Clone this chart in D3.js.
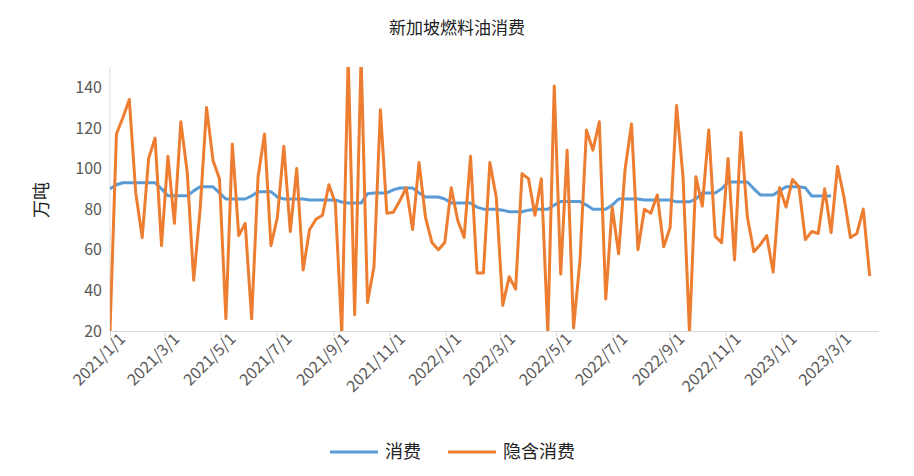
<!DOCTYPE html>
<html>
<head>
<meta charset="utf-8">
<script src="https://cdn.jsdelivr.net/npm/d3@7"></script>
<style>
body { margin: 0; background: #fff; }
text { font-family: "Noto Sans CJK SC", "Liberation Sans", sans-serif; }
</style>
</head>
<body>
<div id="panel"></div>
<script>
// weekly points from 2021/1/1
const startDate = new Date(2021, 0, 1);
const consumption = [90,92,93,93,93,93,93,93,90,86.6,86.6,86.6,86.6,89,91,91,91,88,85,85,85,85,86.5,88.6,88.6,88.6,86,85,85,85,85,
  84.5,84.5,84.5,84.5,84.5,83.5,83,83,83,87.6,88,88,88,89.5,90.4,90.4,90.4,88,86,86,86,85,83,83,83,83,81,80,80,80,79.5,78.7,78.7,78.7,
  79.5,80,80,80,82,83.8,83.8,83.8,83.8,82,80,80,80,82,85,85,85,85,84.5,84.5,84.5,84.5,84.5,83.6,83.6,83.6,85,88,88,88,90,93.4,93.4,93.4,93.4,
  90,87,87,87,89,91,91,91,90.5,86.5,86.5,86.5,86.5];
const implied = [20,117,125,134,88,66,105,115,62,106,73,123,98,45,80,130,104,95,26,112,67,73,26,96,117,62,76,111,69,100,50,70,75,77,92,83,19,155,28,155,34,
  51.6,129,78,78.5,84,90.6,70,103,76,63.6,60,63.6,90.5,74.5,66,106,48.6,48.6,103,85.7,32.6,46.7,40.6,97.5,95,77,95,19,140.6,48,109,21.5,55,119,109,123,35.7,81,58,99.5,122,
  60,80,78,87,61.5,71,131,96,19.5,96,81.5,119,66.6,63.5,105,55,117.7,76,59,62.5,67,49,90.6,81,94.6,91,65,69,68,90,68.5,101,86,66,68,80,47];
const yTicks = [20, 40, 60, 80, 100, 120, 140];
const seriesNames = ["消费", "隐含消费"];
const colors = ["#5b9bd5", "#ed7d31"];

const W = 914, H = 476;
const margin = {left: 110, right: 36, top: 67, bottom: 145};
const dayMs = 864e5;
const dateOf = i => new Date(startDate.getTime() + i * 7 * dayMs);

const svg = d3.select("#panel").append("svg").attr("width", W).attr("height", H);

const x = d3.scaleTime()
  .domain([startDate, new Date(startDate.getTime() + 835 * dayMs)])
  .range([margin.left, W - margin.right]);
const y = d3.scaleLinear().domain([20, 150]).range([H - margin.bottom, margin.top]);

svg.append("text").attr("x", 457).attr("y", 34).attr("text-anchor", "middle")
  .style("font-size", "17px").attr("fill", "#222").text("新加坡燃料油消费");

svg.append("text").attr("transform", "translate(48,200) rotate(-90)")
  .attr("text-anchor", "middle").style("font-size", "18px").attr("fill", "#222").text("万吨");

const xTicks = d3.timeMonth.every(2).range(startDate, x.domain()[1]);
const gx = svg.append("g").attr("transform", `translate(0,${H - margin.bottom})`)
  .call(d3.axisBottom(x).tickValues(xTicks).tickSize(5).tickSizeOuter(0)
    .tickFormat(d3.timeFormat("%Y/%-m/%-d")));
gx.select(".domain").attr("stroke", "#d9d9d9");
gx.selectAll(".tick line").attr("stroke", "#d9d9d9");
gx.selectAll(".tick text").attr("fill", "#595959").style("font-size", "16px")
  .attr("text-anchor", "end").attr("dx", "0.3em").attr("dy", "0.6em")
  .attr("transform", "rotate(-45)");

const gy = svg.append("g").attr("transform", `translate(${margin.left},0)`)
  .call(d3.axisLeft(y).tickValues(yTicks).tickSize(0).tickPadding(8));
gy.select(".domain").attr("stroke", "#d9d9d9").attr("d", `M0,${margin.top}V${H - margin.bottom}`);
gy.selectAll(".tick text").attr("fill", "#595959").style("font-size", "16px");

const clip = svg.append("clipPath").attr("id", "c").append("rect")
  .attr("x", margin.left).attr("y", margin.top)
  .attr("width", W - margin.left - margin.right).attr("height", H - margin.top - margin.bottom);

const line = d3.line().x((d, i) => x(dateOf(i))).y(d => y(d));
[consumption, implied].forEach((s, k) => {
  svg.append("path").datum(s).attr("clip-path", "url(#c)")
    .attr("fill", "none").attr("stroke", colors[k]).attr("stroke-width", 3)
    .attr("stroke-linejoin", "round").attr("d", line);
});

const legendX = [330, 448];
seriesNames.forEach((n, k) => {
  svg.append("line").attr("x1", legendX[k]).attr("x2", legendX[k] + 48)
    .attr("y1", 452).attr("y2", 452).attr("stroke", colors[k]).attr("stroke-width", 3);
  svg.append("text").attr("x", legendX[k] + 55).attr("y", 458)
    .style("font-size", "18px").attr("fill", "#222").text(n);
});
</script>
</body>
</html>
